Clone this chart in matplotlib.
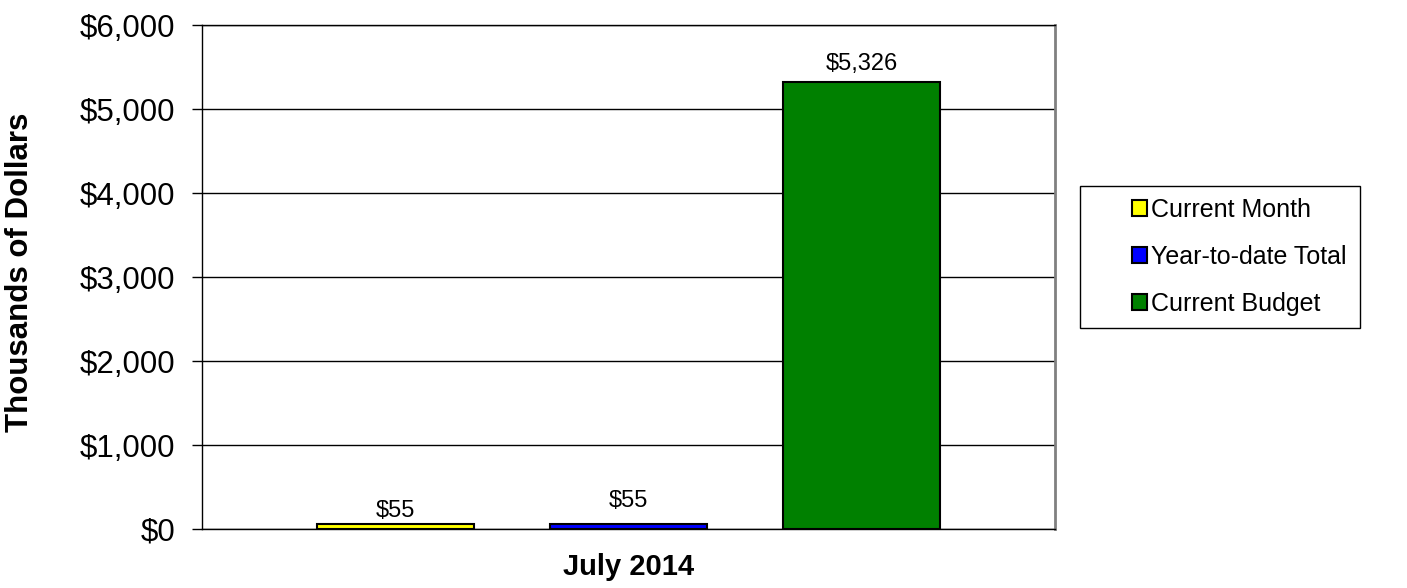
import matplotlib.pyplot as plt
from matplotlib.patches import Rectangle
from matplotlib.ticker import FuncFormatter

plt.rcParams['font.family'] = ['Liberation Sans', 'DejaVu Sans']

# Data
series = ['Current Month', 'Year-to-date Total', 'Current Budget']
values = [55, 55, 5326]
labels = ['$55', '$55', '$5,326']
colors = ['#FFFF00', '#0000FF', '#008000']
category = 'July 2014'

fig = plt.figure(figsize=(14.07, 5.88), dpi=100)
ax = fig.add_axes([202 / 1407, 1 - 529 / 588, 853 / 1407, 504 / 588])

# Bars grouped around one category
xpos = [-1, 0, 1]
bars = ax.bar(xpos, values, width=0.67, color=colors, edgecolor='black',
              linewidth=1.5, label=series, zorder=3)

# Value labels
offsets = [2, 9, 5]
for x, v, lab, off in zip(xpos, values, labels, offsets):
    ax.annotate(lab, (x, v), xytext=(0, off), textcoords='offset points',
                ha='center', va='bottom', fontsize=17)

ax.set_xlim(-1.83, 1.83)
ax.set_ylim(0, 6000)
ax.set_yticks(range(0, 6001, 1000))
ax.yaxis.set_major_formatter(FuncFormatter(lambda v, p: '${:,.0f}'.format(v)))
ax.tick_params(axis='y', labelsize=22.5, length=7, direction='out', width=1, pad=12)
ax.set_xticks([0])
ax.set_xticklabels([category])
ax.tick_params(axis='x', length=0, labelsize=21, pad=17)
for t in ax.get_xticklabels():
    t.set_fontweight('bold')

ax.grid(axis='y', color='black', linewidth=1, zorder=0)
for s in ax.spines.values():
    s.set_color('black')
    s.set_linewidth(1)
ax.spines['right'].set_color('#808080')
ax.spines['right'].set_linewidth(2)

fig.text(20 / 1407, 1 - 272 / 588, 'Thousands of Dollars', rotation=90,
         ha='center', va='center', fontsize=22.5, fontweight='bold')

# Legend with a separate box
fig.patches.append(Rectangle((1080 / 1407, 1 - 328 / 588), 280 / 1407, 142 / 588,
                             transform=fig.transFigure, facecolor='white',
                             edgecolor='black', linewidth=1))
leg = fig.legend(handles=bars, labels=series, loc='upper left',
                 bbox_to_anchor=(1132 / 1407, 1 - 198 / 588), fontsize=18,
                 frameon=False, handlelength=0.6, handleheight=0.6,
                 handletextpad=0.15, labelspacing=0.92, borderpad=0,
                 borderaxespad=0)

fig.savefig('out.png', dpi=100)
